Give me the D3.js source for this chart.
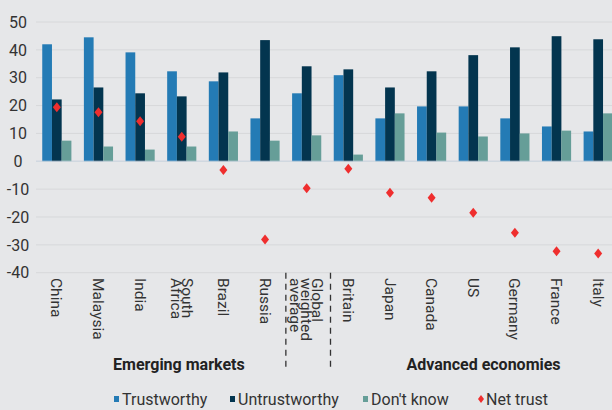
<!DOCTYPE html>
<html>
<head>
<meta charset="utf-8">
<script src="https://cdn.jsdelivr.net/npm/d3@7"></script>
<style>
  body { margin: 0; background: #e6e7e9; }
  svg { display: block; font-family: Roboto, "Noto Sans", sans-serif; }
</style>
</head>
<body>
<div id="chart"></div>
<script>
// countries, split into label lines
var countries = ['China', 'Malaysia', 'India', 'South Africa', 'Brazil', 'Russia',
    'Global weighted average', 'Britain', 'Japan', 'Canada', 'US', 'Germany', 'France', 'Italy'];
var labelLines = [['China'], ['Malaysia'], ['India'], ['South', 'Africa'], ['Brazil'], ['Russia'],
    ['Global', 'weighted', 'average'], ['Britain'], ['Japan'], ['Canada'], ['US'], ['Germany'], ['France'], ['Italy']];

// series values
var trustworthy   = [42.0, 44.5, 39.1, 32.3, 28.7, 15.4, 24.4, 30.9, 15.4, 19.7, 19.7, 15.4, 12.5, 10.7];
var untrustworthy = [22.2, 26.5, 24.4, 23.3, 31.9, 43.5, 34.1, 33.0, 26.5, 32.3, 38.1, 40.9, 44.9, 43.8];
var dontKnow      = [7.4, 5.3, 4.2, 5.3, 10.7, 7.4, 9.3, 2.4, 17.2, 10.3, 8.9, 10.0, 11.0, 17.2];
var netTrust      = [19.4, 17.6, 14.4, 8.8, -3.1, -28.1, -9.7, -2.7, -11.3, -13.1, -18.5, -25.7, -32.3, -33.1];

var seriesNames = ['Trustworthy', 'Untrustworthy', "Don't know"];
var seriesColors = ['#247bb5', '#03354f', '#669e98'];
var netColor = '#ef2e2e';

var yTicks = [50, 40, 30, 20, 10, 0, -10, -20, -30, -40];
var groupLabels = ['Emerging markets', 'Advanced economies'];

var width = 612, height = 410;

var svg = d3.select('#chart').append('svg')
    .attr('width', width)
    .attr('height', height);

svg.append('rect').attr('width', width).attr('height', height).attr('fill', '#e6e7e9');

var x0 = d3.scaleBand()
    .domain(countries)
    .range([36, 619])
    .paddingInner(0.3)
    .paddingOuter(0.15);

var x1 = d3.scaleBand()
    .domain(seriesNames)
    .range([0, x0.bandwidth()]);

var y = d3.scaleLinear()
    .domain([-40, 50])
    .range([272.7, 22]);

// gridlines
svg.append('g')
    .selectAll('line')
    .data(yTicks)
    .enter().append('line')
        .attr('x1', 36)
        .attr('x2', width)
        .attr('y1', function(d){ return y(d); })
        .attr('y2', function(d){ return y(d); })
        .attr('stroke', '#d7d8da')
        .attr('stroke-width', 1);

// y tick labels
svg.append('g')
    .selectAll('text')
    .data(yTicks)
    .enter().append('text')
        .attr('x', 18)
        .attr('y', function(d){ return y(d); })
        .attr('dy', '0.36em')
        .attr('text-anchor', 'middle')
        .attr('font-size', 16)
        .attr('fill', '#333')
        .text(function(d){ return d; });

// bars
var seriesData = [trustworthy, untrustworthy, dontKnow];
var barData = [];
countries.forEach(function(c, i){
    seriesNames.forEach(function(s, j){
        barData.push({country: c, series: s, value: seriesData[j][i], color: seriesColors[j]});
    });
});

svg.append('g')
    .selectAll('rect')
    .data(barData)
    .enter().append('rect')
        .attr('x', function(d){ return x0(d.country) + x1(d.series); })
        .attr('width', x1.bandwidth())
        .attr('y', function(d){ return y(Math.max(0, d.value)); })
        .attr('height', function(d){ return Math.abs(y(d.value) - y(0)); })
        .attr('fill', function(d){ return d.color; });

// zero line drawn over the bars
svg.append('line')
    .attr('x1', 36).attr('x2', width)
    .attr('y1', y(0)).attr('y2', y(0))
    .attr('stroke', '#c9d6e2')
    .attr('stroke-opacity', 0.55)
    .attr('stroke-width', 1.5);

// net trust diamonds
var diamond = 'M0,-5L4,0L0,5L-4,0Z';
svg.append('g')
    .selectAll('path')
    .data(countries)
    .enter().append('path')
        .attr('d', diamond)
        .attr('transform', function(d, i){
            return 'translate(' + (x0(d) + x1('Untrustworthy') + x1.bandwidth() / 2) + ',' + y(netTrust[i]) + ')';
        })
        .attr('fill', netColor);

// rotated category labels
var labels = svg.append('g')
    .selectAll('text')
    .data(countries)
    .enter().append('text')
        .attr('transform', function(d){
            return 'translate(' + (x0(d) + x0.bandwidth() / 2) + ',278) rotate(90)';
        })
        .attr('font-size', 15.5)
        .attr('fill', '#333');

labels.each(function(d, i){
    var lines = labelLines[i];
    var n = lines.length;
    var sel = d3.select(this);
    lines.forEach(function(line, k){
        sel.append('tspan')
            .attr('x', 0)
            .attr('y', (k - (n - 1) / 2) * 11)
            .attr('dy', '0.35em')
            .text(line);
    });
});

// dashed separators around the global average
var globalIdx = countries.indexOf('Global weighted average');
var sepX = [
    (x0(countries[globalIdx - 1]) + x0.bandwidth() + x0(countries[globalIdx])) / 2,
    (x0(countries[globalIdx]) + x0.bandwidth() + x0(countries[globalIdx + 1])) / 2 + 3
];
svg.append('g')
    .selectAll('line')
    .data(sepX)
    .enter().append('line')
        .attr('x1', function(d){ return d; })
        .attr('x2', function(d){ return d; })
        .attr('y1', y(-40))
        .attr('y2', 370)
        .attr('stroke', '#333')
        .attr('stroke-width', 1.3)
        .attr('stroke-dasharray', '6,5');

// group labels, placed relative to the separators
var groupX = [sepX[0] - 107, sepX[1] + 153];
svg.append('g')
    .selectAll('text')
    .data(groupLabels)
    .enter().append('text')
        .attr('x', function(d, i){ return groupX[i]; })
        .attr('y', 370)
        .attr('text-anchor', 'middle')
        .attr('font-size', 16)
        .attr('font-weight', 'bold')
        .attr('fill', '#222')
        .text(function(d){ return d; });

// legend
var legendItems = seriesNames.concat(['Net trust']);
var legendX = [114, 230, 363, 479];
var legend = svg.append('g')
    .selectAll('g')
    .data(legendItems)
    .enter().append('g')
        .attr('transform', function(d, i){ return 'translate(' + legendX[i] + ',399)'; });

legend.each(function(d, i){
    var g = d3.select(this);
    if(i < 3){
        g.append('rect')
            .attr('x', 0).attr('y', -3)
            .attr('width', 5).attr('height', 6)
            .attr('fill', seriesColors[i]);
    } else{
        g.append('path')
            .attr('d', 'M0,-4L3,0L0,4L-3,0Z')
            .attr('transform', 'translate(2,0)')
            .attr('fill', netColor);
    }
    g.append('text')
        .attr('x', i < 3 ? 8 : 7)
        .attr('y', 0)
        .attr('dy', '0.35em')
        .attr('font-size', 16)
        .attr('fill', '#333')
        .text(d);
});
</script>
</body>
</html>
